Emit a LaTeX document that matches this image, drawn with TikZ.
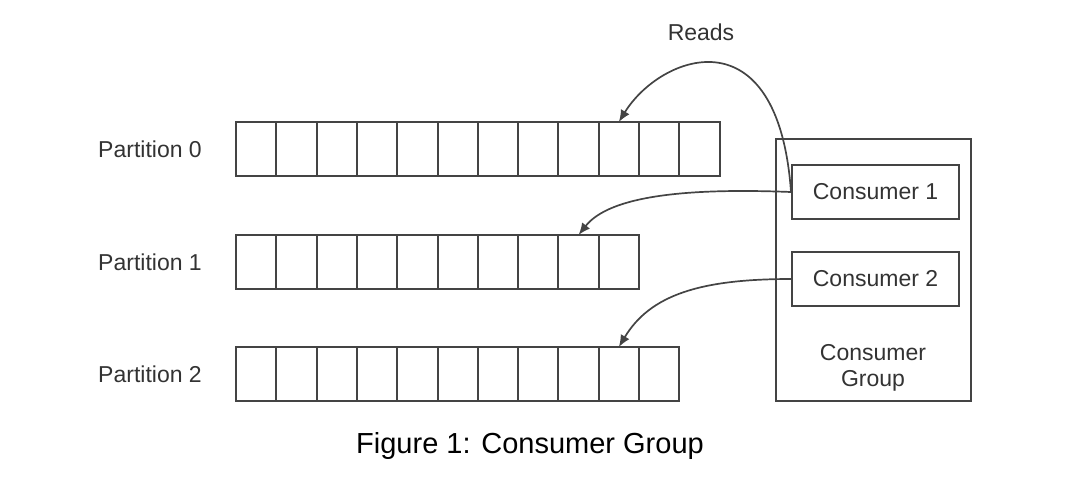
\documentclass[tikz,border=0pt]{standalone}
\usepackage{fontspec}
\setmainfont{Liberation Sans}
\usetikzlibrary{arrows.meta}

\tikzset{
    cell/.style={draw=linegray, line width=1pt, minimum width=20.15pt, minimum height=27pt, inner sep=0pt, outer sep=0pt},
    consumerbox/.style={draw=linegray, line width=1pt, minimum width=83.5pt, minimum height=27pt, inner sep=0pt, font=\fontsize{11.5}{13}\selectfont, text=textgray},
    plabel/.style={font=\fontsize{11.5}{13}\selectfont, text=textgray},
    reads/.style={draw=linegray, line width=0.85pt, -{Latex[length=6pt,width=5pt]}}
}
\definecolor{linegray}{HTML}{444444}
\definecolor{textgray}{HTML}{333333}

\begin{document}
\begin{tikzpicture}[x=0.5pt, y=-0.5pt]
    \useasboundingbox (0,0) rectangle (1074,478);

    % Draw the partitions, one row of cells each
    \foreach \r/\y/\n in {0/149/12, 1/262/10, 2/374/11} {
        \node[plabel] (lab\r) at (150,\y) {Partition \r};
        \foreach \c in {1,...,\n} {
            \node[cell] (p\r-\c) at ({236+(\c-0.5)*40.3},\y) {};
        }
    }

    % Draw the consumer group and its consumers
    \node[draw=linegray, line width=1pt, minimum width=97.5pt, minimum height=131pt, inner sep=0pt] (group) at (873.5,270) {};
    \node[consumerbox] (c1) at (875.5,192) {Consumer 1};
    \node[consumerbox] (c2) at (875.5,279) {Consumer 2};
    \node[plabel, align=center] (gname) at (873,368) {Consumer\\Group};

    % Draw the reads
    \node[plabel] (readlab) at (701,32) {Reads};
    \draw[reads] (c1.west) .. controls (778,10) and (660,55) .. (p0-10.north);
    \draw[reads] (c1.west) .. controls (690,188) and (610,195) .. (p1-9.north);
    \draw[reads] (c2.west) .. controls (700,279) and (650,295) .. (p2-10.north);

    % Caption
    \node[font=\fontsize{14.5}{17}\selectfont, text=black] (caption) at (530,446) {Figure 1: Consumer Group};
\end{tikzpicture}
\end{document}
